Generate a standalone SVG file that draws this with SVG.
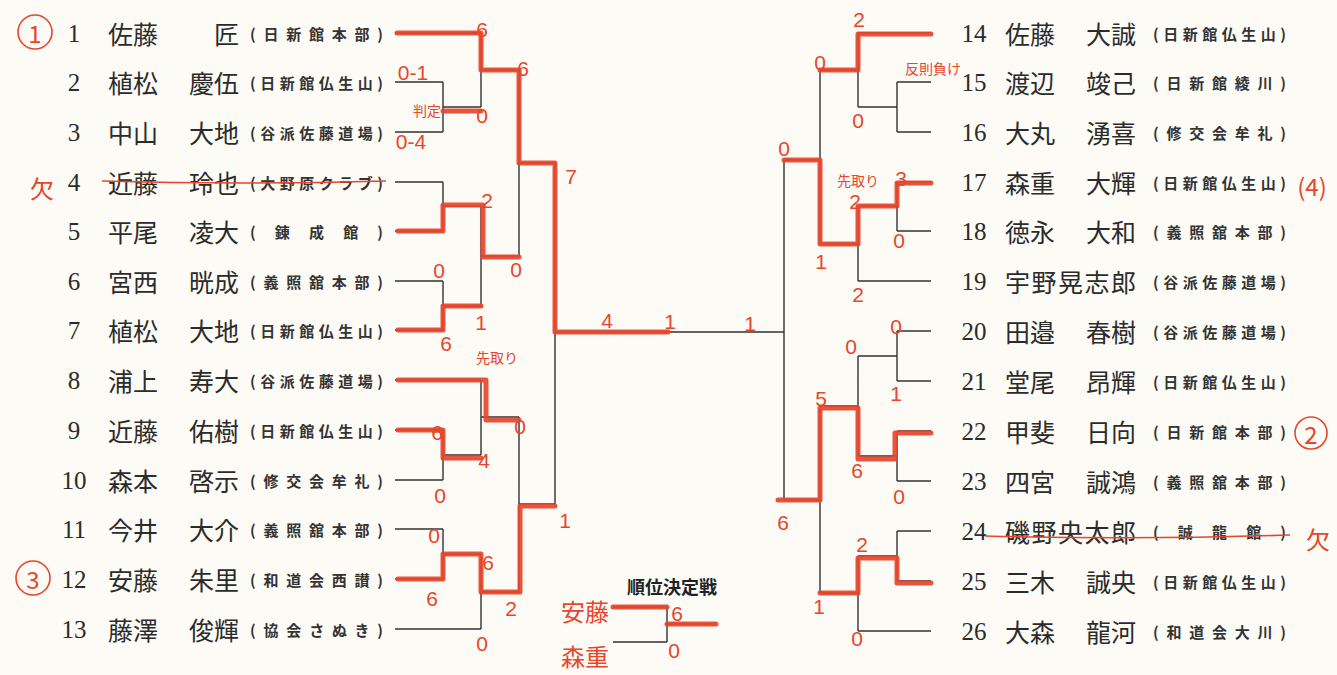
<svg xmlns="http://www.w3.org/2000/svg" width="1337" height="675" viewBox="0 0 1337 675">
<style>
.num{font-family:"Liberation Serif",serif;font-size:25px;fill:#2b2b2b;text-anchor:middle;dominant-baseline:central}
.nm{font-family:"Noto Sans CJK JP",sans-serif;font-size:25px;fill:#2b2b2b;dominant-baseline:central}
.ge{text-anchor:end}
.cl{font-family:"Noto Sans CJK JP",sans-serif;font-size:15px;font-weight:700;fill:#333;dominant-baseline:central}
.ln{fill:none;stroke:#333;stroke-width:1.4}
.rd{fill:none;stroke:#e8452c;stroke-width:5;stroke-linejoin:round;stroke-linecap:round;opacity:0.92}
.rt{fill:none;stroke:#e8452c;stroke-width:1.6}
.hw{font-family:"Liberation Sans",sans-serif;font-size:21px;fill:#e8452c;text-anchor:middle;dominant-baseline:central}
.hs{font-family:"Noto Sans CJK JP",sans-serif;font-size:14px;fill:#e8452c;text-anchor:middle;dominant-baseline:central}
.hb{font-family:"Noto Sans CJK JP",sans-serif;font-size:24px;fill:#e8452c;text-anchor:middle;dominant-baseline:central}
.tt{font-family:"Noto Sans CJK JP",sans-serif;font-size:18px;font-weight:700;fill:#222;text-anchor:middle;dominant-baseline:central}
</style>
<rect width="1337" height="675" fill="#fcfbf6"/>

<g id="players-left">
<g id="p1"><text class="num" x="74" y="33">1</text><text class="nm" x="108" y="33">佐藤</text><text class="nm ge" x="239" y="33">匠</text><text class="cl" x="250" y="33" textLength="133" lengthAdjust="spacing">(日新館本部)</text></g>
<g id="p2"><text class="num" x="74" y="82">2</text><text class="nm" x="108" y="82">植松</text><text class="nm ge" x="239" y="82">慶伍</text><text class="cl" x="250" y="82" textLength="133" lengthAdjust="spacing">(日新館仏生山)</text></g>
<g id="p3"><text class="num" x="74" y="132">3</text><text class="nm" x="108" y="132">中山</text><text class="nm ge" x="239" y="132">大地</text><text class="cl" x="250" y="132" textLength="133" lengthAdjust="spacing">(谷派佐藤道場)</text></g>
<g id="p4"><text class="num" x="74" y="182">4</text><text class="nm" x="108" y="182">近藤</text><text class="nm ge" x="239" y="182">玲也</text><text class="cl" x="250" y="182" textLength="133" lengthAdjust="spacing">(大野原クラブ)</text></g>
<g id="p5"><text class="num" x="74" y="231">5</text><text class="nm" x="108" y="231">平尾</text><text class="nm ge" x="239" y="231">凌大</text><text class="cl" x="250" y="231" textLength="133" lengthAdjust="spacing">(錬成館)</text></g>
<g id="p6"><text class="num" x="74" y="281">6</text><text class="nm" x="108" y="281">宮西</text><text class="nm ge" x="239" y="281">晄成</text><text class="cl" x="250" y="281" textLength="133" lengthAdjust="spacing">(義照舘本部)</text></g>
<g id="p7"><text class="num" x="74" y="330">7</text><text class="nm" x="108" y="330">植松</text><text class="nm ge" x="239" y="330">大地</text><text class="cl" x="250" y="330" textLength="133" lengthAdjust="spacing">(日新館仏生山)</text></g>
<g id="p8"><text class="num" x="74" y="380">8</text><text class="nm" x="108" y="380">浦上</text><text class="nm ge" x="239" y="380">寿大</text><text class="cl" x="250" y="380" textLength="133" lengthAdjust="spacing">(谷派佐藤道場)</text></g>
<g id="p9"><text class="num" x="74" y="430">9</text><text class="nm" x="108" y="430">近藤</text><text class="nm ge" x="239" y="430">佑樹</text><text class="cl" x="250" y="430" textLength="133" lengthAdjust="spacing">(日新館仏生山)</text></g>
<g id="p10"><text class="num" x="74" y="480">10</text><text class="nm" x="108" y="480">森本</text><text class="nm ge" x="239" y="480">啓示</text><text class="cl" x="250" y="480" textLength="133" lengthAdjust="spacing">(修交会牟礼)</text></g>
<g id="p11"><text class="num" x="74" y="529">11</text><text class="nm" x="108" y="529">今井</text><text class="nm ge" x="239" y="529">大介</text><text class="cl" x="250" y="529" textLength="133" lengthAdjust="spacing">(義照舘本部)</text></g>
<g id="p12"><text class="num" x="74" y="579">12</text><text class="nm" x="108" y="579">安藤</text><text class="nm ge" x="239" y="579">朱里</text><text class="cl" x="250" y="579" textLength="133" lengthAdjust="spacing">(和道会西讃)</text></g>
<g id="p13"><text class="num" x="74" y="629">13</text><text class="nm" x="108" y="629">藤澤</text><text class="nm ge" x="239" y="629">俊輝</text><text class="cl" x="250" y="629" textLength="133" lengthAdjust="spacing">(協会さぬき)</text></g>
</g>

<g id="players-right">
<g id="p14"><text class="num" x="974" y="33">14</text><text class="nm" x="1005" y="33">佐藤</text><text class="nm ge" x="1136" y="33">大誠</text><text class="cl" x="1153" y="33" textLength="133" lengthAdjust="spacing">(日新館仏生山)</text></g>
<g id="p15"><text class="num" x="974" y="82">15</text><text class="nm" x="1005" y="82">渡辺</text><text class="nm ge" x="1136" y="82">竣己</text><text class="cl" x="1153" y="82" textLength="133" lengthAdjust="spacing">(日新館綾川)</text></g>
<g id="p16"><text class="num" x="974" y="132">16</text><text class="nm" x="1005" y="132">大丸</text><text class="nm ge" x="1136" y="132">湧喜</text><text class="cl" x="1153" y="132" textLength="133" lengthAdjust="spacing">(修交会牟礼)</text></g>
<g id="p17"><text class="num" x="974" y="182">17</text><text class="nm" x="1005" y="182">森重</text><text class="nm ge" x="1136" y="182">大輝</text><text class="cl" x="1153" y="182" textLength="133" lengthAdjust="spacing">(日新館仏生山)</text></g>
<g id="p18"><text class="num" x="974" y="231">18</text><text class="nm" x="1005" y="231">徳永</text><text class="nm ge" x="1136" y="231">大和</text><text class="cl" x="1153" y="231" textLength="133" lengthAdjust="spacing">(義照舘本部)</text></g>
<g id="p19"><text class="num" x="974" y="281">19</text><text class="nm" x="1005" y="281" textLength="131" lengthAdjust="spacing">宇野晃志郎</text><text class="cl" x="1153" y="281" textLength="133" lengthAdjust="spacing">(谷派佐藤道場)</text></g>
<g id="p20"><text class="num" x="974" y="331">20</text><text class="nm" x="1005" y="331">田邉</text><text class="nm ge" x="1136" y="331">春樹</text><text class="cl" x="1153" y="331" textLength="133" lengthAdjust="spacing">(谷派佐藤道場)</text></g>
<g id="p21"><text class="num" x="974" y="381">21</text><text class="nm" x="1005" y="381">堂尾</text><text class="nm ge" x="1136" y="381">昂輝</text><text class="cl" x="1153" y="381" textLength="133" lengthAdjust="spacing">(日新館仏生山)</text></g>
<g id="p22"><text class="num" x="974" y="431">22</text><text class="nm" x="1005" y="431">甲斐</text><text class="nm ge" x="1136" y="431">日向</text><text class="cl" x="1153" y="431" textLength="133" lengthAdjust="spacing">(日新館本部)</text></g>
<g id="p23"><text class="num" x="974" y="481">23</text><text class="nm" x="1005" y="481">四宮</text><text class="nm ge" x="1136" y="481">誠鴻</text><text class="cl" x="1153" y="481" textLength="133" lengthAdjust="spacing">(義照舘本部)</text></g>
<g id="p24"><text class="num" x="974" y="531">24</text><text class="nm" x="1005" y="531" textLength="131" lengthAdjust="spacing">磯野央太郎</text><text class="cl" x="1153" y="531" textLength="133" lengthAdjust="spacing">(誠龍館)</text></g>
<g id="p25"><text class="num" x="974" y="581">25</text><text class="nm" x="1005" y="581">三木</text><text class="nm ge" x="1136" y="581">誠央</text><text class="cl" x="1153" y="581" textLength="133" lengthAdjust="spacing">(日新館仏生山)</text></g>
<g id="p26"><text class="num" x="974" y="631">26</text><text class="nm" x="1005" y="631">大森</text><text class="nm ge" x="1136" y="631">龍河</text><text class="cl" x="1153" y="631" textLength="133" lengthAdjust="spacing">(和道会大川)</text></g>
</g>

<g id="placement-title"><text class="tt" x="672" y="586">順位決定戦</text></g>

<g id="connectors">
<path class="ln" d="M395 33H481 M395 82H443 M395 132H443 M443 82V132 M443 107H481 M481 33V107 M481 70H519
M395 182H443 M395 231H443 M443 182V231 M443 206H481 M395 281H443 M395 330H443 M443 281V330 M443 306H481 M481 206V306 M481 256H519 M519 70V256 M519 163H555
M395 380H481 M395 430H443 M395 480H443 M443 430V480 M443 455H481 M481 380V455 M481 417H519
M395 529H443 M395 579H443 M443 529V579 M443 554H481 M395 629H481 M481 554V629 M481 592H519 M519 417V592 M519 504H555
M555 163V504 M555 332H784"/>
<path class="ln" d="M931 33H858 M931 82H897 M931 132H897 M897 82V132 M897 107H858 M858 33V107 M858 70H820
M931 182H897 M931 231H897 M897 182V231 M897 206H858 M931 281H858 M858 206V281 M858 244H820 M820 70V244 M820 160H784
M931 331H897 M931 381H897 M897 331V381 M897 356H858 M931 431H897 M931 481H897 M897 431V481 M897 456H858 M858 356V456 M858 406H820
M931 531H897 M931 581H897 M897 531V581 M897 556H858 M931 631H858 M858 556V631 M858 593H820 M820 406V593 M820 500H784 M784 160V500"/>
<path class="ln" d="M613 607H667 M613 642H667 M667 607V642 M667 624H716"/>
</g>

<g id="red-paths">
<path class="rd" d="M397 33H481V70H519V163H555V332H668"/>
<path class="rd" d="M443 111H481"/>
<path class="rd" d="M398 231H443V205H483V257H519"/>
<path class="rd" d="M398 330H443V306H481"/>
<path class="rd" d="M398 380H486V420H519"/>
<path class="rd" d="M398 430H443V458H481"/>
<path class="rd" d="M398 579H443V554H481V592H520V506H555"/>
<path class="rd" d="M613 607H667 M667 624H716"/>
<path class="rd" d="M931 34H858V70H820"/>
<path class="rd" d="M931 183H897V206H858V244H820V160H784"/>
<path class="rd" d="M931 433H895V459H858V408H820V500H778"/>
<path class="rd" d="M931 583H897V558H858V593H820"/>
</g>

<g id="red-marks">
<circle class="rt" cx="35" cy="32" r="17"/><text class="hb" x="35" y="32">1</text>
<circle class="rt" cx="33" cy="578" r="17"/><text class="hb" x="33" y="578">3</text>
<circle class="rt" cx="1311" cy="433" r="16"/><text class="hb" x="1311" y="433">2</text>
<text class="hb" x="1312" y="185">(4)</text>
<text class="hb" x="42" y="187">欠</text>
<text class="hb" x="1318" y="538">欠</text>
<path class="rt" d="M102 181Q240 185 386 181"/>
<path class="rt" d="M985 536Q1140 540 1290 535"/>
<text class="hs" x="427" y="110">判定</text>
<text class="hs" x="497" y="357">先取り</text>
<text class="hs" x="858" y="180">先取り</text>
<text class="hs" x="933" y="68" font-size="16">反則負け</text>
<text class="hb" x="585" y="610">安藤</text>
<text class="hb" x="585" y="655">森重</text>
<g class="scores">
<text class="hw" x="482" y="29">6</text>
<text class="hw" x="523" y="68">6</text>
<text class="hw" x="413" y="72" font-size="18">0-1</text>
<text class="hw" x="411" y="141" font-size="18">0-4</text>
<text class="hw" x="482" y="115">0</text>
<text class="hw" x="571" y="176">7</text>
<text class="hw" x="487" y="200">2</text>
<text class="hw" x="516" y="269">0</text>
<text class="hw" x="439" y="270">0</text>
<text class="hw" x="481" y="322">1</text>
<text class="hw" x="446" y="343">6</text>
<text class="hw" x="520" y="426">0</text>
<text class="hw" x="437" y="432">6</text>
<text class="hw" x="484" y="460">4</text>
<text class="hw" x="440" y="495">0</text>
<text class="hw" x="434" y="535">0</text>
<text class="hw" x="488" y="562">6</text>
<text class="hw" x="432" y="598">6</text>
<text class="hw" x="511" y="608">2</text>
<text class="hw" x="482" y="643">0</text>
<text class="hw" x="565" y="520">1</text>
<text class="hw" x="607" y="320">4</text>
<text class="hw" x="670" y="321">1</text>
<text class="hw" x="750" y="323">1</text>
<text class="hw" x="784" y="148">0</text>
<text class="hw" x="677" y="613" font-size="18">6</text>
<text class="hw" x="674" y="650">0</text>
<text class="hw" x="859" y="19">2</text>
<text class="hw" x="820" y="62">0</text>
<text class="hw" x="858" y="120">0</text>
<text class="hw" x="901" y="178">3</text>
<text class="hw" x="855" y="201" font-size="15">2</text>
<text class="hw" x="899" y="240">0</text>
<text class="hw" x="821" y="261">1</text>
<text class="hw" x="858" y="294">2</text>
<text class="hw" x="896" y="326">0</text>
<text class="hw" x="851" y="346">0</text>
<text class="hw" x="896" y="393">1</text>
<text class="hw" x="821" y="398">5</text>
<text class="hw" x="857" y="470">6</text>
<text class="hw" x="899" y="496">0</text>
<text class="hw" x="783" y="522">6</text>
<text class="hw" x="862" y="544">2</text>
<text class="hw" x="819" y="606">1</text>
<text class="hw" x="857" y="638">0</text>
</g>
</g>
</svg>
